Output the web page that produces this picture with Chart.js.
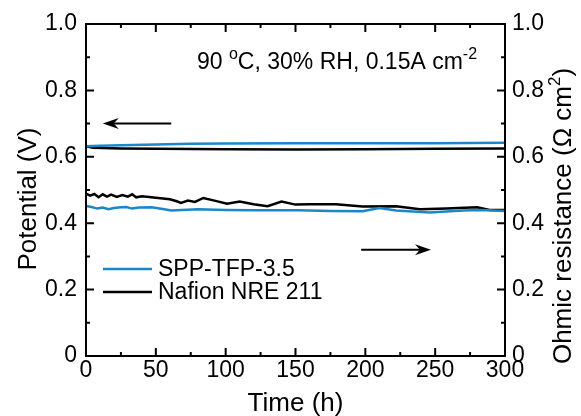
<!DOCTYPE html>
<html>
<head>
<meta charset="utf-8">
<script src="https://cdn.jsdelivr.net/npm/chart.js@4.4.1/dist/chart.umd.min.js"></script>
<style>
html,body{margin:0;padding:0;background:#fff;}
#wrap{width:581px;height:416px;}
</style>
</head>
<body>
<div id="wrap"><canvas id="c" width="581" height="416"></canvas></div>
<script>
// ---- data ----
const xTicks = [0, 50, 100, 150, 200, 250, 300];
const yTicks = [0, 0.2, 0.4, 0.6, 0.8, 1.0];

const seriesNames = ['SPP-TFP-3.5', 'Nafion NRE 211'];

// Potential (V), left axis
const sppVTime = [0, 10, 25, 50, 75, 100, 150, 200, 250, 300];
const sppV     = [0.632, 0.633, 0.635, 0.637, 0.639, 0.640, 0.641, 0.641, 0.641, 0.642];
const nafVTime = [0, 5, 25, 50, 100, 150, 200, 250, 300];
const nafV     = [0.632, 0.627, 0.625, 0.624, 0.623, 0.622, 0.623, 0.624, 0.625];

// Ohmic resistance (ohm cm2), right axis
const sppRTime = [0, 4, 8, 12, 16, 20, 25, 29, 33, 38, 47, 55, 61, 80, 100, 120, 152, 175, 198, 210, 222, 246, 270, 282, 300];
const sppR     = [0.452, 0.449, 0.444, 0.447, 0.442, 0.446, 0.448, 0.449, 0.444, 0.447, 0.448, 0.443, 0.438, 0.442, 0.440, 0.439, 0.439, 0.437, 0.436, 0.446, 0.438, 0.432, 0.438, 0.440, 0.437];
const nafRTime = [0, 3, 6, 9, 12, 15, 18, 22, 26, 30, 33, 36, 40, 50, 60, 65, 68, 73, 78, 84, 92, 101, 110, 120, 130, 140, 150, 160, 179, 198, 222, 239, 258, 280, 289, 300];
const nafR     = [0.489, 0.483, 0.488, 0.478, 0.487, 0.480, 0.486, 0.479, 0.485, 0.480, 0.487, 0.478, 0.481, 0.477, 0.472, 0.466, 0.461, 0.468, 0.464, 0.476, 0.468, 0.459, 0.465, 0.457, 0.451, 0.465, 0.456, 0.457, 0.457, 0.450, 0.451, 0.442, 0.444, 0.448, 0.440, 0.440];

// annotation arrows (data coords): [t start, t end, value]
const leftArrow  = [61, 12, 0.70];
const rightArrow = [197, 247, 0.32];

const BLUE = '#1b87c9';
const FONT = '"Liberation Sans", Arial, sans-serif';

function pts(t, v) { return t.map((x, i) => ({x: x, y: v[i]})); }

// draw text parts [text, isSuperscript] starting at x (left aligned, alphabetic baseline)
function drawParts(ctx, parts, x, base, size, supSize, supRise) {
  ctx.textBaseline = 'alphabetic';
  ctx.textAlign = 'left';
  parts.forEach(p => {
    ctx.font = (p[1] ? supSize : size) + 'px ' + FONT;
    ctx.fillText(p[0], x, p[1] ? base - supRise : base);
    x += ctx.measureText(p[0]).width;
  });
  return x;
}
function partsWidth(ctx, parts, size, supSize) {
  let w = 0;
  parts.forEach(p => { ctx.font = (p[1] ? supSize : size) + 'px ' + FONT; w += ctx.measureText(p[0]).width; });
  return w;
}

const decor = {
  id: 'decor',
  afterDatasetsDraw(chart) {
    const ctx = chart.ctx;
    const a = chart.chartArea;
    const xs = chart.scales.x, ys = chart.scales.y, y2 = chart.scales.y2;
    ctx.save();
    ctx.strokeStyle = '#000';
    ctx.lineWidth = 2;
    ctx.strokeRect(a.left, a.top, a.right - a.left, a.bottom - a.top);
    // x ticks
    for (let v = 0; v <= 300; v += 25) {
      const p = xs.getPixelForValue(v);
      const L = (v % 50 === 0) ? 8 : 4;
      ctx.beginPath();
      ctx.moveTo(p, a.bottom); ctx.lineTo(p, a.bottom - L);
      ctx.moveTo(p, a.top); ctx.lineTo(p, a.top + L);
      ctx.stroke();
    }
    for (let i = 0; i <= 10; i++) {
      const v = i / 10;
      const p = ys.getPixelForValue(v);
      const p2 = y2.getPixelForValue(v);
      const L = (i % 2 === 0) ? 8 : 4;
      ctx.beginPath();
      ctx.moveTo(a.left, p); ctx.lineTo(a.left + L, p);
      ctx.moveTo(a.right, p2); ctx.lineTo(a.right - L, p2);
      ctx.stroke();
    }
    // arrows
    function arrow(x1, x2, yv, scale) {
      const px1 = xs.getPixelForValue(x1), px2 = xs.getPixelForValue(x2);
      const py = scale.getPixelForValue(yv);
      const dir = Math.sign(px2 - px1);
      ctx.beginPath();
      ctx.moveTo(px1, py); ctx.lineTo(px2 - dir * 8, py);
      ctx.lineWidth = 2; ctx.stroke();
      ctx.beginPath();
      ctx.moveTo(px2, py);
      ctx.lineTo(px2 - dir * 16, py - 5.5);
      ctx.lineTo(px2 - dir * 11, py);
      ctx.lineTo(px2 - dir * 16, py + 5.5);
      ctx.closePath();
      ctx.fillStyle = '#000'; ctx.fill();
    }
    arrow(leftArrow[0], leftArrow[1], leftArrow[2], ys);
    arrow(rightArrow[0], rightArrow[1], rightArrow[2], y2);

    // legend
    const items = [[seriesNames[0], BLUE], [seriesNames[1], '#000']];
    ctx.font = '23px ' + FONT;
    ctx.textBaseline = 'middle';
    ctx.textAlign = 'left';
    items.forEach((it, i) => {
      const yy = 269 + i * 23;
      ctx.strokeStyle = it[1]; ctx.lineWidth = 2.5;
      ctx.beginPath(); ctx.moveTo(a.left + 17, yy); ctx.lineTo(a.left + 66, yy); ctx.stroke();
      ctx.fillStyle = '#000';
      ctx.fillText(it[0], a.left + 72, yy + 1);
    });

    // annotation text with superscripts
    ctx.fillStyle = '#000';
    drawParts(ctx, [['90 ', 0], ['o', 1], ['C, 30% RH, 0.15A cm', 0], ['-2', 1]], 197, 69, 23, 16, 10);

    // axis titles
    ctx.font = '26px ' + FONT;
    ctx.textAlign = 'center';
    ctx.textBaseline = 'middle';
    ctx.fillText('Time (h)', (a.left + a.right) / 2, 404);
    ctx.save();
    ctx.translate(29, 199);
    ctx.rotate(-Math.PI / 2);
    ctx.fillText('Potential (V)', 0, 0);
    ctx.restore();
    // right title, reading bottom-to-top, with superscript 2
    const rParts = [['Ohmic resistance (\u03A9 cm', 0], ['2', 1], [')', 0]];
    const rw = partsWidth(ctx, rParts, 26, 17);
    ctx.save();
    ctx.translate(562, 216);
    ctx.rotate(-Math.PI / 2);
    drawParts(ctx, rParts, -rw / 2, 9, 26, 17, 11);
    ctx.restore();
    ctx.restore();
  }
};

const tickFont = {family: FONT, size: 23};
const fmt = v => (v === 0 ? '0' : Number(v).toFixed(1));

new Chart(document.getElementById('c'), {
  type: 'line',
  data: {
    datasets: [
      {label: seriesNames[0], data: pts(sppVTime, sppV), yAxisID: 'y', borderColor: BLUE, borderWidth: 2.5, pointRadius: 0, tension: 0},
      {label: seriesNames[1], data: pts(nafVTime, nafV), yAxisID: 'y', borderColor: '#000', borderWidth: 2.5, pointRadius: 0, tension: 0},
      {label: seriesNames[0] + ' R', data: pts(sppRTime, sppR), yAxisID: 'y2', borderColor: BLUE, borderWidth: 2.5, pointRadius: 0, tension: 0},
      {label: seriesNames[1] + ' R', data: pts(nafRTime, nafR), yAxisID: 'y2', borderColor: '#000', borderWidth: 2.5, pointRadius: 0, tension: 0}
    ]
  },
  options: {
    responsive: false,
    animation: false,
    layout: {padding: {top: 24, left: 0, right: 0, bottom: 0}},
    plugins: {legend: {display: false}, tooltip: {enabled: false}},
    scales: {
      x: {
        type: 'linear', min: 0, max: 300,
        afterBuildTicks: s => { s.ticks = xTicks.map(v => ({value: v})); },
        ticks: {font: tickFont, color: '#000', padding: 1, maxRotation: 0},
        grid: {display: false, drawTicks: false}, border: {display: false},
        afterFit: s => { s.height = 60; }
      },
      y: {
        type: 'linear', position: 'left', min: 0, max: 1,
        afterBuildTicks: s => { s.ticks = yTicks.map(v => ({value: v})); },
        ticks: {font: tickFont, color: '#000', padding: 9, callback: fmt},
        grid: {display: false, drawTicks: false}, border: {display: false},
        afterFit: s => { s.width = 86; }
      },
      y2: {
        type: 'linear', position: 'right', min: 0, max: 1,
        afterBuildTicks: s => { s.ticks = yTicks.map(v => ({value: v})); },
        ticks: {font: tickFont, color: '#000', padding: 7, callback: fmt},
        grid: {display: false, drawTicks: false}, border: {display: false},
        afterFit: s => { s.width = 76; }
      }
    }
  },
  plugins: [decor]
});
</script>
</body>
</html>
